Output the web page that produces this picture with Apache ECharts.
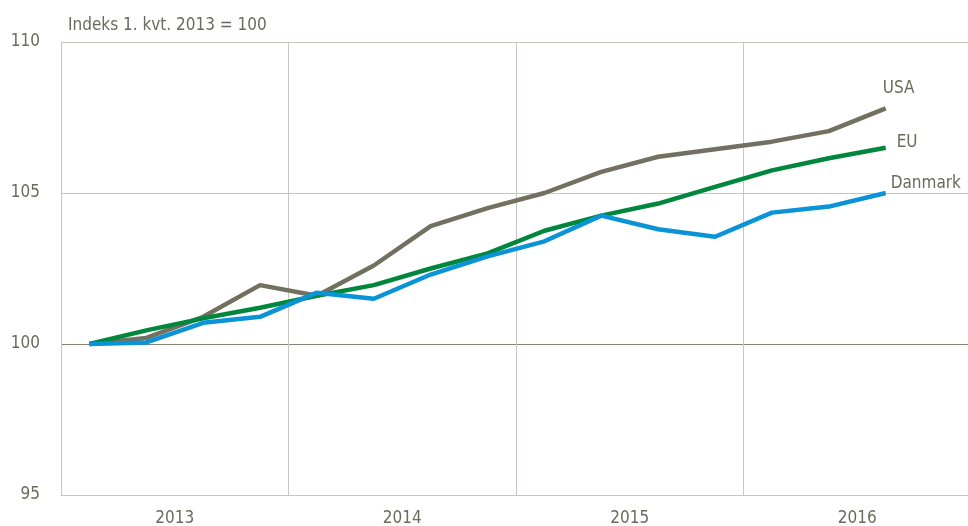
<!DOCTYPE html>
<html><head><meta charset="utf-8">
<script src="https://cdn.jsdelivr.net/npm/echarts@6/dist/echarts.min.js"></script>
<style>html,body{margin:0;padding:0;background:#fff}#c{width:968px;height:526px}</style>
</head><body><div id="c"></div>
<script>
const quarters = ["2013K1","2013K2","2013K3","2013K4","2014K1","2014K2","2014K3","2014K4","2015K1","2015K2","2015K3","2015K4","2016K1","2016K2","2016K3","2016K4"];
const years = ["2013","2014","2015","2016"];
const usa = [100, 100.2, 100.9, 101.95, 101.6, 102.6, 103.9, 104.5, 105.0, 105.7, 106.2, 106.45, 106.7, 107.05, 107.8];
const eu = [100, 100.45, 100.85, 101.2, 101.6, 101.95, 102.5, 103.0, 103.75, 104.25, 104.65, 105.2, 105.75, 106.15, 106.5];
const danmark = [100, 100.05, 100.7, 100.9, 101.7, 101.5, 102.3, 102.9, 103.4, 104.25, 103.8, 103.55, 104.35, 104.55, 105.0];
const yTicks = [95, 100, 105, 110];

const FONT = "'DejaVu Sans Condensed', 'Liberation Sans Narrow', sans-serif";
const TXT = '#6b6a5c';
const GRID = '#c9c7bb';
const chart = echarts.init(document.getElementById('c'));
function ser(name, data, color, off) {
  return {
    name, type: 'line', data, xAxisIndex: 0, symbol: 'none', smooth: false,
    lineStyle: { color, width: 4.5 }, itemStyle: { color },
    endLabel: { show: true, formatter: name, color: TXT, fontFamily: FONT, fontSize: 17, offset: off, distance: 5 }
  };
}
chart.setOption({
  animation: false,
  title: { text: 'Indeks 1. kvt. 2013 = 100', left: 63, top: 12, textStyle: { color: TXT, fontFamily: FONT, fontSize: 17, fontWeight: 'normal' } },
  grid: { left: 61, right: -3, top: 42, bottom: 31, outerBoundsMode: 'none', containLabel: false },
  xAxis: [
    { type: 'category', data: quarters, boundaryGap: true, show: false },
    { type: 'category', data: years, position: 'bottom', boundaryGap: true,
      axisLine: { show: true, lineStyle: { color: GRID, width: 1 } }, axisTick: { show: false },
      axisLabel: { color: TXT, fontFamily: FONT, fontSize: 17, margin: 15 },
      splitLine: { show: true, lineStyle: { color: GRID, width: 1 } } }
  ],
  yAxis: {
    type: 'value', min: yTicks[0], max: yTicks[yTicks.length - 1], interval: 5,
    axisLine: { show: true, lineStyle: { color: GRID, width: 1 } }, axisTick: { show: false },
    axisLabel: { color: TXT, fontFamily: FONT, fontSize: 17, margin: 21 },
    splitLine: { show: true, lineStyle: { color: [GRID, '#858372', GRID, GRID], width: 1 } }
  },
  series: [
    ser('USA', usa, '#727060', [-8, -20]),
    ser('EU', eu, '#00873d', [6, -5]),
    ser('Danmark', danmark, '#0a93d6', [0, -9])
  ]
});
</script></body></html>
